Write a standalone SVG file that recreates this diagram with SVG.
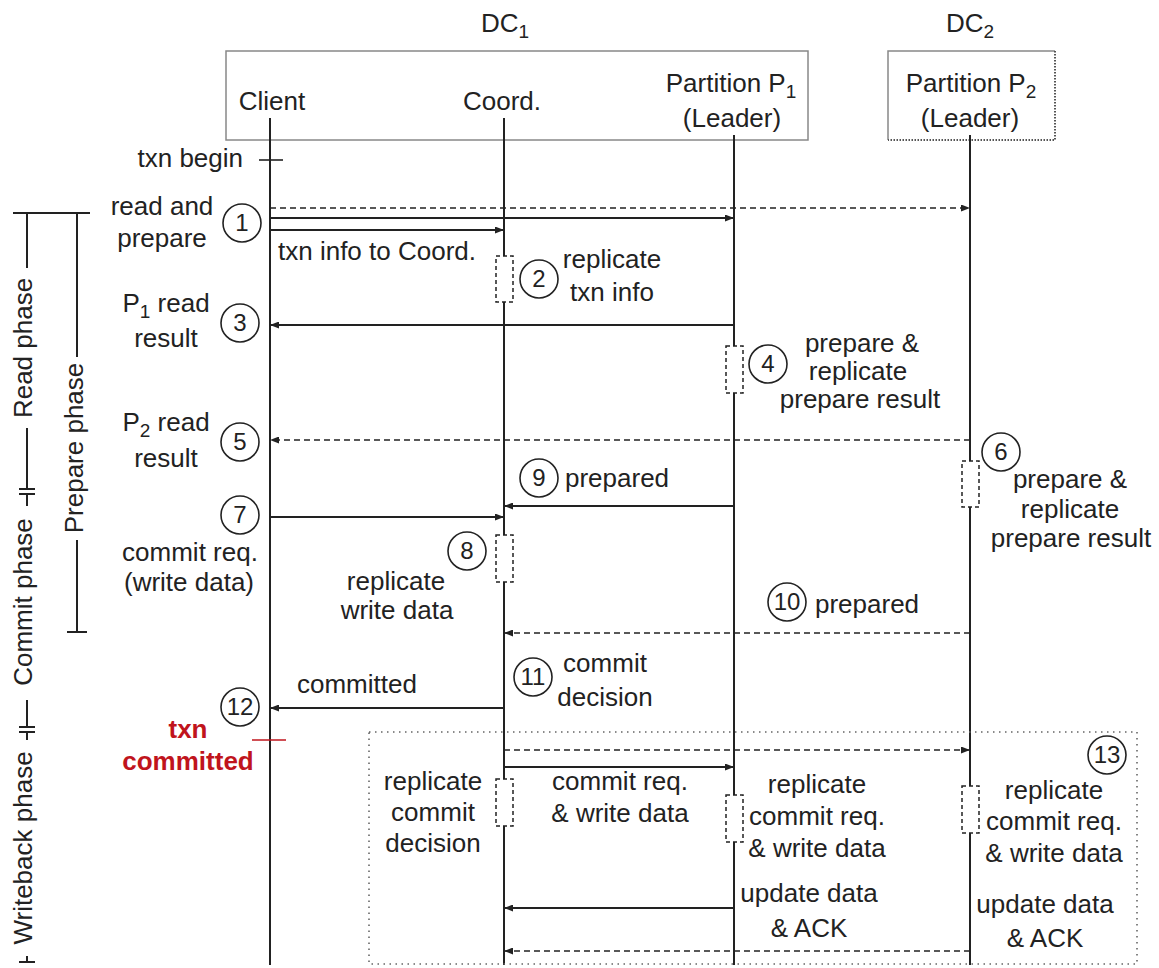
<svg xmlns="http://www.w3.org/2000/svg" width="1159" height="968" viewBox="0 0 1159 968">
<style>
text{font-family:"Liberation Sans",Arial,sans-serif;font-size:26px;fill:#222}
.m{text-anchor:middle}
.e{text-anchor:end}
.num{font-size:24px;text-anchor:middle}
.red{fill:#c0141c;font-weight:bold}
.life{stroke:#222;stroke-width:2;fill:none}
.sol{stroke:#222;stroke-width:2;fill:none}
.dash{stroke:#222;stroke-width:1.6;stroke-dasharray:6 4;fill:none}
.rep{fill:#fff;stroke:#222;stroke-width:1.5;stroke-dasharray:4 3}
.circ{fill:#fff;stroke:#222;stroke-width:1.6}
.brk{stroke:#222;stroke-width:2;fill:none}
</style>
<defs>
<marker id="ah" markerUnits="userSpaceOnUse" markerWidth="9" markerHeight="7" refX="9" refY="3.5" orient="auto">
<path d="M0,0 L9,3.5 L0,7 z" fill="#222"/>
</marker>
</defs>
<rect width="1159" height="968" fill="#fff"/>

<!-- DC boxes -->
<g id="dc1">
<rect x="226" y="51" width="582" height="89" fill="none" stroke="#888" stroke-width="1.5"/>
<text class="m" x="505" y="32">DC<tspan font-size="19" dy="6">1</tspan></text>
</g>
<g id="dc2">
<path d="M888,140 L888,51 L1055,51" fill="none" stroke="#888" stroke-width="1.5"/>
<path d="M1055,51 L1055,140 L888,140" fill="none" stroke="#555" stroke-width="2" stroke-dasharray="1.5 1.5"/>
<text class="m" x="970" y="32">DC<tspan font-size="19" dy="6">2</tspan></text>
</g>

<!-- lifelines / participants -->
<g id="client">
<text class="m" x="272" y="110">Client</text>
<line class="life" x1="270" y1="118" x2="270" y2="965"/>
</g>
<g id="coord">
<text class="m" x="502" y="110">Coord.</text>
<line class="life" x1="504" y1="118" x2="504" y2="965"/>
</g>
<g id="p1">
<text class="m" x="731" y="92">Partition P<tspan font-size="19" dy="6">1</tspan></text>
<text class="m" x="732" y="127">(Leader)</text>
<line class="life" x1="734" y1="135" x2="734" y2="965"/>
</g>
<g id="p2">
<text class="m" x="971" y="92">Partition P<tspan font-size="19" dy="6">2</tspan></text>
<text class="m" x="970" y="127">(Leader)</text>
<line class="life" x1="970" y1="135" x2="970" y2="965"/>
</g>

<!-- phase brackets -->
<g id="phases">
<line class="brk" x1="13" y1="213" x2="90" y2="213"/>
<line class="brk" x1="27" y1="213" x2="27" y2="268"/>
<line class="brk" x1="27" y1="428" x2="27" y2="489"/>
<line class="brk" x1="19" y1="489" x2="35" y2="489"/>
<line class="brk" x1="19" y1="494" x2="35" y2="494"/>
<line class="brk" x1="27" y1="494" x2="27" y2="506"/>
<line class="brk" x1="27" y1="700" x2="27" y2="727"/>
<line class="brk" x1="19" y1="727" x2="35" y2="727"/>
<line class="brk" x1="19" y1="732" x2="35" y2="732"/>
<line class="brk" x1="27" y1="732" x2="27" y2="740"/>
<line class="brk" x1="27" y1="956" x2="27" y2="962"/>
<line class="brk" x1="19" y1="962" x2="35" y2="962"/>
<text class="m" transform="translate(32,348) rotate(-90)">Read phase</text>
<text class="m" transform="translate(32,602) rotate(-90)">Commit phase</text>
<text class="m" transform="translate(32,848) rotate(-90)">Writeback phase</text>
<line class="brk" x1="77" y1="213" x2="77" y2="357"/>
<line class="brk" x1="77" y1="540" x2="77" y2="632"/>
<line class="brk" x1="67" y1="632" x2="87" y2="632"/>
<text class="m" transform="translate(83,448) rotate(-90)">Prepare phase</text>
</g>

<!-- writeback region -->
<g id="writeback-region">
<rect x="369" y="732" width="768" height="232" fill="none" stroke="#666" stroke-width="1.6" stroke-dasharray="1.5 4.5"/>
</g>

<!-- connectors -->
<g id="connectors">
<line class="dash" x1="270" y1="208" x2="970" y2="208" marker-end="url(#ah)"/>
<line class="sol" x1="270" y1="218" x2="734" y2="218" marker-end="url(#ah)"/>
<line class="sol" x1="270" y1="230" x2="504" y2="230" marker-end="url(#ah)"/>
<line class="sol" x1="734" y1="325" x2="270" y2="325" marker-end="url(#ah)"/>
<line class="dash" x1="970" y1="440" x2="270" y2="440" marker-end="url(#ah)"/>
<line class="sol" x1="734" y1="506" x2="504" y2="506" marker-end="url(#ah)"/>
<line class="sol" x1="270" y1="517" x2="504" y2="517" marker-end="url(#ah)"/>
<line class="dash" x1="970" y1="633" x2="504" y2="633" marker-end="url(#ah)"/>
<line class="sol" x1="504" y1="708" x2="270" y2="708" marker-end="url(#ah)"/>
<line class="dash" x1="504" y1="750" x2="970" y2="750" marker-end="url(#ah)"/>
<line class="sol" x1="504" y1="767" x2="734" y2="767" marker-end="url(#ah)"/>
<line class="sol" x1="734" y1="908" x2="504" y2="908" marker-end="url(#ah)"/>
<line class="dash" x1="970" y1="951" x2="504" y2="951" marker-end="url(#ah)"/>
<line x1="259" y1="160" x2="283" y2="160" stroke="#222" stroke-width="1.6"/>
<line x1="252" y1="740" x2="286" y2="740" stroke="#c0141c" stroke-width="1.6"/>
</g>

<!-- replication boxes -->
<g id="rep-boxes">
<rect class="rep" x="496" y="256" width="17" height="46"/>
<rect class="rep" x="726" y="346" width="17" height="47"/>
<rect class="rep" x="962" y="461" width="17" height="46"/>
<rect class="rep" x="496" y="535" width="17" height="47"/>
<rect class="rep" x="496" y="779" width="17" height="47"/>
<rect class="rep" x="726" y="795" width="17" height="47"/>
<rect class="rep" x="962" y="786" width="17" height="47"/>
</g>

<!-- steps -->
<g id="txn-begin"><text class="e" x="243" y="167">txn begin</text></g>
<g id="step1">
<circle class="circ" cx="242" cy="223" r="19"/><text class="num" x="242" y="231">1</text>
<text class="m" x="162" y="215">read and</text>
<text class="m" x="162" y="247">prepare</text>
<text x="278" y="260">txn info to Coord.</text>
</g>
<g id="step2">
<circle class="circ" cx="539" cy="279" r="19"/><text class="num" x="539" y="287">2</text>
<text class="m" x="612" y="268">replicate</text>
<text class="m" x="612" y="301">txn info</text>
</g>
<g id="step3">
<circle class="circ" cx="240" cy="323" r="19"/><text class="num" x="240" y="331">3</text>
<text class="m" x="166" y="312">P<tspan font-size="19" dy="6">1</tspan><tspan dy="-6"> read</tspan></text>
<text class="m" x="166" y="347">result</text>
</g>
<g id="step4">
<circle class="circ" cx="768" cy="364" r="19"/><text class="num" x="768" y="372">4</text>
<text class="m" x="862" y="352">prepare &amp;</text>
<text class="m" x="858" y="380">replicate</text>
<text class="m" x="860" y="408">prepare result</text>
</g>
<g id="step5">
<circle class="circ" cx="240" cy="442" r="19"/><text class="num" x="240" y="450">5</text>
<text class="m" x="166" y="431">P<tspan font-size="19" dy="6">2</tspan><tspan dy="-6"> read</tspan></text>
<text class="m" x="166" y="467">result</text>
</g>
<g id="step6">
<circle class="circ" cx="1001" cy="452" r="19"/><text class="num" x="1001" y="460">6</text>
<text class="m" x="1070" y="488">prepare &amp;</text>
<text class="m" x="1070" y="518">replicate</text>
<text class="m" x="1071" y="547">prepare result</text>
</g>
<g id="step7">
<circle class="circ" cx="240" cy="515" r="19"/><text class="num" x="240" y="523">7</text>
<text class="m" x="190" y="561">commit req.</text>
<text class="m" x="189" y="591">(write data)</text>
</g>
<g id="step8">
<circle class="circ" cx="467" cy="551" r="19"/><text class="num" x="467" y="559">8</text>
<text class="m" x="396" y="590">replicate</text>
<text class="m" x="397" y="619">write data</text>
</g>
<g id="step9">
<circle class="circ" cx="539" cy="478" r="19"/><text class="num" x="539" y="486">9</text>
<text x="565" y="487">prepared</text>
</g>
<g id="step10">
<circle class="circ" cx="787" cy="602" r="19"/><text class="num" x="787" y="610">10</text>
<text x="815" y="613">prepared</text>
</g>
<g id="step11">
<circle class="circ" cx="533" cy="677" r="19"/><text class="num" x="533" y="685">11</text>
<text class="m" x="605" y="672">commit</text>
<text class="m" x="605" y="706">decision</text>
</g>
<g id="step12">
<circle class="circ" cx="240" cy="707" r="19"/><text class="num" x="240" y="715">12</text>
<text x="297" y="693">committed</text>
<text class="m red" x="188" y="738">txn</text>
<text class="m red" x="188" y="770">committed</text>
</g>
<g id="step13">
<circle class="circ" cx="1107" cy="755" r="19"/><text class="num" x="1107" y="763">13</text>
<text class="m" x="433" y="790">replicate</text>
<text class="m" x="433" y="821">commit</text>
<text class="m" x="433" y="852">decision</text>
<text class="m" x="620" y="790">commit req.</text>
<text class="m" x="620" y="822">&amp; write data</text>
<text class="m" x="817" y="793">replicate</text>
<text class="m" x="817" y="825">commit req.</text>
<text class="m" x="817" y="857">&amp; write data</text>
<text class="m" x="809" y="902">update data</text>
<text class="m" x="809" y="937">&amp; ACK</text>
<text class="m" x="1054" y="799">replicate</text>
<text class="m" x="1054" y="830">commit req.</text>
<text class="m" x="1054" y="862">&amp; write data</text>
<text class="m" x="1045" y="913">update data</text>
<text class="m" x="1045" y="947">&amp; ACK</text>
</g>
</svg>
